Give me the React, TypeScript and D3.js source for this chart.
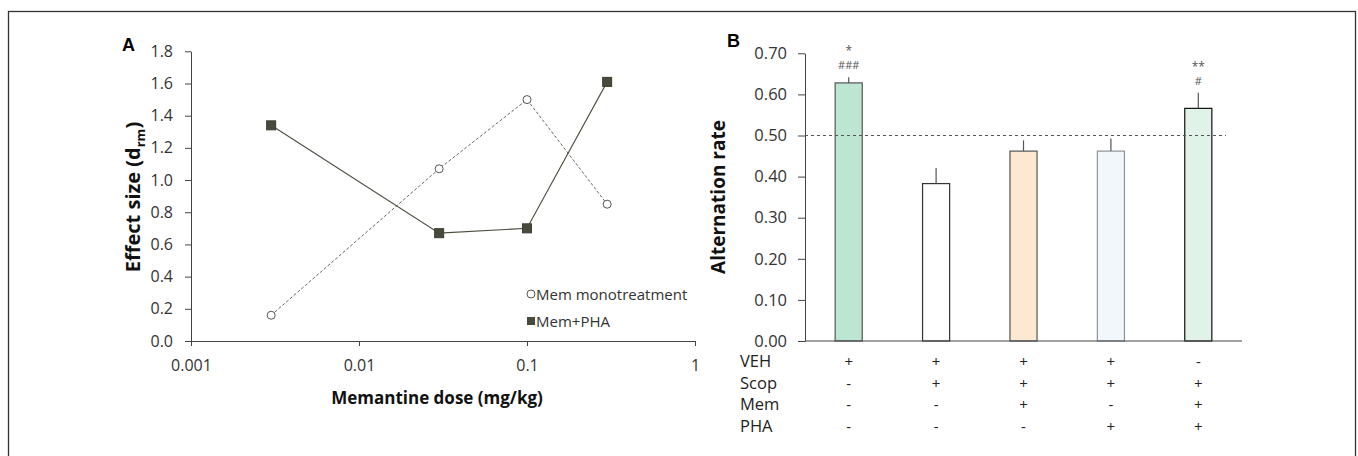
import {useEffect, useRef} from 'react';
import * as d3 from 'd3';

const [W, H] = [1358, 456];
const FONT = '"Open Sans", "Noto Sans", sans-serif';

// panel A: effect size vs memantine dose
const doses = [0.003, 0.03, 0.1, 0.3];
const monoEffect = [0.16, 1.07, 1.5, 0.85];
const comboEffect = [1.34, 0.67, 0.7, 1.61];
const doseTicks = [0.001, 0.01, 0.1, 1];
const effectTicks = [0, 0.2, 0.4, 0.6, 0.8, 1.0, 1.2, 1.4, 1.6, 1.8];

// panel B: alternation rate per group
const groups = ['G1', 'G2', 'G3', 'G4', 'G5'];
const rates = [0.628, 0.383, 0.462, 0.462, 0.566];
const rateErrors = [0.014, 0.038, 0.026, 0.031, 0.038];
const barFills = ['#bde6d2', '#ffffff', '#fde9d1', '#f2f7fc', '#e1f2e9'];
const barStrokes = ['#555555', '#333333', '#555555', '#8d9399', '#111111'];
const stars = ['*', '', '', '', '**'];
const hashes = ['###', '', '', '', '#'];
const rateTicks = [0, 0.1, 0.2, 0.3, 0.4, 0.5, 0.6, 0.7];
const rowLabels = ['VEH', 'Scop', 'Mem', 'PHA'];
const vehRow = ['+', '+', '+', '+', '-'];
const scopRow = ['-', '+', '+', '+', '+'];
const memRow = ['-', '-', '+', '-', '+'];
const phaRow = ['-', '-', '-', '+', '+'];
const chanceLevel = 0.5;

function App() {
    const svgRef = useRef();

    useEffect(() => {
        const svg = d3.select(svgRef.current);
        svg.selectAll('*').remove();

        // outer frame
        svg.append('rect')
            .attr('x', 8.5).attr('y', 11.5)
            .attr('width', 1347).attr('height', 470)
            .attr('fill', 'none').attr('stroke', '#333').attr('stroke-width', 1.3);

        // ---------- panel A ----------
        const xA = d3.scaleLog().domain([0.001, 1]).range([191, 695]);
        const yA = d3.scaleLinear().domain([0, 1.8]).range([341, 51.3]);
        const gA = svg.append('g');

        const yAxisA = gA.append('g').attr('transform', 'translate(191,0)')
            .call(d3.axisLeft(yA).tickValues(effectTicks).tickFormat(d3.format('.1f')).tickSize(6).tickSizeOuter(0).tickPadding(12));
        const xAxisA = gA.append('g').attr('transform', 'translate(0,341)')
            .call(d3.axisBottom(xA).tickValues(doseTicks).tickFormat(d => String(d)).tickSize(5).tickSizeOuter(0).tickPadding(14));
        [yAxisA, xAxisA].forEach(a => {
            a.selectAll('path, line').attr('stroke', '#444');
            a.selectAll('text').attr('fill', '#333').style('font-size', '16px').style('font-family', FONT);
        });

        const line = d3.line().x((d, i) => xA(doses[i])).y(d => yA(d));
        gA.append('path').attr('d', line(monoEffect)).attr('fill', 'none')
            .attr('stroke', '#555').attr('stroke-width', 0.9).attr('stroke-dasharray', '3,2');
        gA.append('path').attr('d', line(comboEffect)).attr('fill', 'none')
            .attr('stroke', '#4a4d3e').attr('stroke-width', 1.1);

        gA.selectAll('circle.mono').data(monoEffect).enter().append('circle')
            .attr('cx', (d, i) => xA(doses[i])).attr('cy', d => yA(d)).attr('r', 4)
            .attr('fill', '#fff').attr('stroke', '#555').attr('stroke-width', 1);
        gA.selectAll('rect.combo').data(comboEffect).enter().append('rect')
            .attr('x', (d, i) => xA(doses[i]) - 4.5).attr('y', d => yA(d) - 4.5)
            .attr('width', 9).attr('height', 9).attr('fill', '#474b3b').attr('stroke', '#3a3d30');

        // legend
        gA.append('circle').attr('cx', 531).attr('cy', 294).attr('r', 4)
            .attr('fill', '#fff').attr('stroke', '#555');
        gA.append('text').attr('x', 536).attr('y', 299.5).text('Mem monotreatment')
            .style('font-size', '15px').style('font-family', FONT).attr('fill', '#333');
        gA.append('rect').attr('x', 527).attr('y', 317).attr('width', 8).attr('height', 8).attr('fill', '#474b3b');
        gA.append('text').attr('x', 536).attr('y', 326.5).text('Mem+PHA')
            .style('font-size', '15px').style('font-family', FONT).attr('fill', '#333');

        // titles
        const yTitleA = gA.append('text')
            .attr('transform', 'translate(140,197) rotate(-90)').attr('text-anchor', 'middle')
            .style('font-size', '20px').style('font-weight', 'bold').style('font-family', FONT).attr('fill', '#111');
        yTitleA.append('tspan').text('Effect size (d');
        yTitleA.append('tspan').text('rm').style('font-size', '13px').attr('dy', 5);
        yTitleA.append('tspan').text(')').attr('dy', -5);
        gA.append('text').attr('x', 437).attr('y', 404).attr('text-anchor', 'middle').text('Memantine dose (mg/kg)')
            .style('font-size', '17px').style('font-weight', 'bold').style('font-family', FONT).attr('fill', '#111');
        gA.append('text').attr('x', 122).attr('y', 51).text('A')
            .style('font-size', '18px').style('font-weight', 'bold').style('font-family', 'Arial, "Liberation Sans", sans-serif');

        // ---------- panel B ----------
        const xB = d3.scaleBand().domain(groups).range([805, 1242]).paddingInner(0.69).paddingOuter(0.345);
        const yB = d3.scaleLinear().domain([0, 0.7]).range([341, 53.3]);
        const gB = svg.append('g');

        const yAxisB = gB.append('g').attr('transform', 'translate(805,0)')
            .call(d3.axisLeft(yB).tickValues(rateTicks).tickFormat(d3.format('.2f')).tickSize(7).tickSizeOuter(0).tickPadding(11));
        yAxisB.selectAll('path, line').attr('stroke', '#444');
        yAxisB.selectAll('text').attr('fill', '#333').style('font-size', '16.5px').style('font-family', FONT);

        gB.selectAll('rect.bar').data(rates).enter().append('rect')
            .attr('x', (d, i) => xB(groups[i])).attr('y', d => yB(d))
            .attr('width', xB.bandwidth()).attr('height', d => yB(0) - yB(d))
            .attr('fill', (d, i) => barFills[i]).attr('stroke', (d, i) => barStrokes[i]).attr('stroke-width', 1.2);

        gB.selectAll('line.err').data(rates).enter().append('line')
            .attr('x1', (d, i) => xB(groups[i]) + xB.bandwidth() / 2)
            .attr('x2', (d, i) => xB(groups[i]) + xB.bandwidth() / 2)
            .attr('y1', d => yB(d)).attr('y2', (d, i) => yB(d + rateErrors[i]))
            .attr('stroke', '#555').attr('stroke-width', 1.2);

        gB.append('line').attr('x1', 805).attr('x2', 1242).attr('y1', 341).attr('y2', 341)
            .attr('stroke', '#444').attr('stroke-width', 1);
        gB.append('line').attr('x1', 805).attr('x2', 1226).attr('y1', yB(chanceLevel)).attr('y2', yB(chanceLevel))
            .attr('stroke', '#555').attr('stroke-width', 1).attr('stroke-dasharray', '3,3');

        const cx = i => xB(groups[i]) + xB.bandwidth() / 2;
        rates.forEach((r, i) => {
            const top = yB(r + rateErrors[i]);
            if (hashes[i]) gB.append('text').attr('x', cx(i)).attr('y', top - 8).attr('text-anchor', 'middle')
                .text(hashes[i]).style('font-size', '11px').style('font-family', FONT).attr('fill', '#555');
            if (stars[i]) gB.append('text').attr('x', cx(i)).attr('y', top - 22).attr('text-anchor', 'middle')
                .text(stars[i]).style('font-size', '12px').style('font-family', FONT).attr('fill', '#555');
        });

        // treatment table
        [vehRow, scopRow, memRow, phaRow].forEach((row, r) => {
            const y = 367 + r * 21.7;
            gB.append('text').attr('x', 740).attr('y', y).text(rowLabels[r])
                .style('font-size', '16.5px').style('font-family', FONT).attr('fill', '#222');
            row.forEach((s, i) => {
                gB.append('text').attr('x', cx(i)).attr('y', y).attr('text-anchor', 'middle').text(s)
                    .style('font-size', '15px').style('font-family', FONT).attr('fill', '#222');
            });
        });

        gB.append('text')
            .attr('transform', 'translate(725,197) rotate(-90)').attr('text-anchor', 'middle').text('Alternation rate')
            .style('font-size', '19px').style('font-weight', 'bold').style('font-family', FONT).attr('fill', '#111');
        gB.append('text').attr('x', 727).attr('y', 47).text('B')
            .style('font-size', '18px').style('font-weight', 'bold').style('font-family', 'Arial, "Liberation Sans", sans-serif');
    }, []);

    return (
        <svg ref={svgRef} width={W} height={H} style={{position: 'absolute', left: 0, top: 0, background: '#fff'}} />
    );
}

export default App;
